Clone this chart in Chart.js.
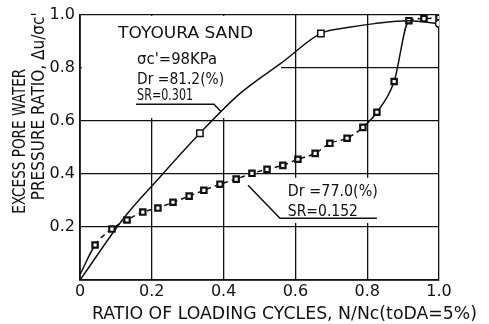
<!DOCTYPE html>
<html>
<head>
<meta charset="utf-8">
<script src="https://cdn.jsdelivr.net/npm/chart.js@4"></script>
<style>
  body { margin: 0; background: #fff; }
</style>
</head>
<body>
<canvas id="myChart" width="489" height="324"></canvas>
<script>
// axis ticks
var xTicks = [0, 0.2, 0.4, 0.6, 0.8, 1.0];
var yTicks = [0, 0.2, 0.4, 0.6, 0.8, 1.0];

// Dr = 81.2 %, SR = 0.301 (solid curve)
var dr812X = [0, 0.125, 0.214, 0.334, 0.446, 0.565, 0.671, 0.75, 0.82, 0.916, 1.0];
var dr812Y = [0, 0.238, 0.375, 0.553, 0.703, 0.822, 0.929, 0.952, 0.966, 0.977, 0.966];
var dr812Marks = [3, 6];          // points drawn with a square
var dr812End = 10;                // point drawn with a circle

// Dr = 77.0 %, SR = 0.152 (squares)
var dr770X = [0, 0.042, 0.089, 0.131, 0.175, 0.217, 0.259, 0.304, 0.345, 0.390, 0.435, 0.479,
              0.521, 0.565, 0.607, 0.655, 0.696, 0.744, 0.788, 0.827, 0.875, 0.916, 0.958, 1.0];
var dr770Y = [0.02, 0.132, 0.192, 0.226, 0.256, 0.271, 0.293, 0.316, 0.338, 0.361, 0.380, 0.402,
              0.417, 0.432, 0.455, 0.477, 0.515, 0.534, 0.575, 0.632, 0.748, 0.977, 0.985, 0.989];

var xTitle = 'RATIO OF LOADING CYCLES, N/Nc(toDA=5%)';
var yTitle = ['EXCESS PORE WATER', "PRESSURE RATIO, \u0394u/\u03c3c'"];

var FONT = '"DejaVu Sans", sans-serif';

function toPoints(xs, ys) {
    return xs.map(function (x, i) { return { x: x, y: ys[i] }; });
}

// draw text squeezed/stretched to a given pixel width
function fitText(ctx, txt, x, y, w, size, align, rot) {
    ctx.save();
    ctx.font = size + 'px ' + FONT;
    var m = ctx.measureText(txt).width;
    ctx.translate(x, y);
    if (rot) ctx.rotate(rot);
    ctx.scale(w / m, 1);
    ctx.textAlign = align || 'left';
    ctx.textBaseline = 'middle';
    ctx.fillStyle = '#111';
    ctx.fillText(txt, 0, 0);
    ctx.restore();
}

// labels written on the plot (x, y in data units)
var notes = [
    { t: 'TOYOURA SAND', x: 0.106, y: 0.929, w: 135, s: 16 },
    { t: "\u03c3c'=98KPa", x: 0.159, y: 0.827, w: 80, s: 15 },
    { t: 'Dr =81.2(%)', x: 0.159, y: 0.752, w: 87, s: 15 },
    { t: 'SR=0.301', x: 0.159, y: 0.692, w: 56, s: 15 },
    { t: 'Dr =77.0(%)', x: 0.579, y: 0.331, w: 90, s: 15 },
    { t: 'SR=0.152', x: 0.579, y: 0.256, w: 70, s: 15 }
];
var leaders = [
    [[0.156, 0.662], [0.373, 0.662], [0.392, 0.636]],
    [[0.468, 0.357], [0.557, 0.233], [0.827, 0.233]]
];
// white patches behind the labels (grid is cut there)
var masks = [
    [0.005, 0.56, 0.61, 0.995],
    [0.47, 0.85, 0.215, 0.385]
];

var paperPlugin = {
    id: 'paper',
    beforeDatasetsDraw: function (chart) {
        var ctx = chart.ctx, xs = chart.scales.x, ys = chart.scales.y;
        ctx.save();
        ctx.fillStyle = '#fff';
        masks.forEach(function (m) {
            var l = xs.getPixelForValue(m[0]), r = xs.getPixelForValue(m[1]);
            var b = ys.getPixelForValue(m[2]), t = ys.getPixelForValue(m[3]);
            ctx.fillRect(l, t, r - l, b - t);
        });
        ctx.restore();
    },
    afterDraw: function (chart) {
        var ctx = chart.ctx, xs = chart.scales.x, ys = chart.scales.y, a = chart.chartArea;
        notes.forEach(function (n) {
            fitText(ctx, n.t, xs.getPixelForValue(n.x), ys.getPixelForValue(n.y), n.w, n.s);
        });
        ctx.save();
        ctx.strokeStyle = '#111';
        ctx.lineWidth = 1.5;
        leaders.forEach(function (ln) {
            ctx.beginPath();
            ln.forEach(function (p, i) {
                var px = xs.getPixelForValue(p[0]), py = ys.getPixelForValue(p[1]);
                if (i === 0) ctx.moveTo(px, py); else ctx.lineTo(px, py);
            });
            ctx.stroke();
        });
        ctx.restore();

        // axis titles
        fitText(ctx, xTitle, (a.left + a.right) / 2 + 25, a.bottom + 35, 385, 17, 'center');
        var midY = (a.top + a.bottom) / 2;
        fitText(ctx, yTitle[0], a.left - 60, midY - 6, 145, 18, 'center', -Math.PI / 2);
        fitText(ctx, yTitle[1], a.left - 41, midY - 41, 188, 18, 'center', -Math.PI / 2);
    }
};

var element = document.getElementById('myChart').getContext('2d');

var chartData = {
    datasets: [{
        label: 'Dr=81.2%, SR=0.301',
        data: toPoints(dr812X, dr812Y),
        showLine: true,
        cubicInterpolationMode: 'monotone',
        borderColor: '#111',
        borderWidth: 1.5,
        pointStyle: function (c) { return c.dataIndex === dr812End ? 'circle' : 'rect'; },
        pointRadius: function (c) {
            if (c.dataIndex === dr812End) return 3.5;
            return dr812Marks.indexOf(c.dataIndex) >= 0 ? 4.5 : 0;
        },
        pointBackgroundColor: '#fff',
        pointBorderColor: '#111',
        pointBorderWidth: 1.5
    }, {
        label: 'Dr=77.0%, SR=0.152',
        data: toPoints(dr770X, dr770Y),
        showLine: true,
        cubicInterpolationMode: 'monotone',
        borderColor: '#111',
        borderWidth: 1.5,
        segment: {
            borderDash: function (c) {
                var i = c.p0DataIndex;
                return (i >= 1 && i <= 17) || i >= 21 ? [5, 4] : undefined;
            }
        },
        pointStyle: 'rect',
        pointRadius: function (c) { return c.dataIndex === 0 ? 0 : 3.8; },
        pointBackgroundColor: '#fff',
        pointBorderColor: '#111',
        pointBorderWidth: 2.2
    }]
};

var chartOptions = {
    responsive: false,
    animation: false,
    devicePixelRatio: 1,
    layout: { padding: { left: 0, top: 14, right: 50, bottom: 0 } },
    plugins: { legend: { display: false }, tooltip: { enabled: false } },
    scales: {
        x: {
            type: 'linear', min: 0, max: 1,
            afterBuildTicks: function (s) { s.ticks = xTicks.map(function (v) { return { value: v }; }); },
            afterFit: function (s) { s.height = 44; },
            grid: { color: '#111', lineWidth: 1.3, drawTicks: false },
            border: { color: '#111', width: 1.8 },
            ticks: {
                padding: 2,
                color: '#111',
                font: { family: FONT, size: 16 },
                callback: function (v) { return v === 0 ? '0' : v.toFixed(1); }
            }
        },
        y: {
            type: 'linear', min: 0, max: 1,
            afterBuildTicks: function (s) { s.ticks = yTicks.map(function (v) { return { value: v }; }); },
            afterFit: function (s) { s.width = 80; },
            grid: { color: '#111', lineWidth: 1.3, drawTicks: false },
            border: { color: '#111', width: 1.8 },
            ticks: {
                padding: 5,
                color: '#111',
                font: { family: FONT, size: 16 },
                callback: function (v) { return v === 0 ? '' : v.toFixed(1); }
            }
        }
    }
};

var chart = new Chart(element, { type: 'scatter', data: chartData, options: chartOptions, plugins: [paperPlugin] });
</script>
</body>
</html>
